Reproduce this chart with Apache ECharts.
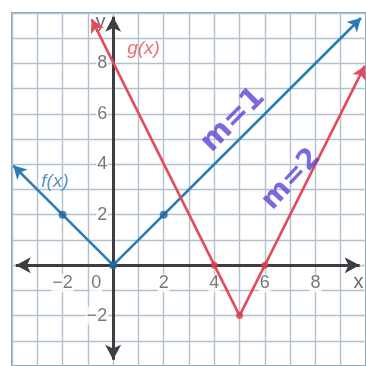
<!DOCTYPE html>
<html>
<head>
<meta charset="utf-8">
<script src="https://cdn.jsdelivr.net/npm/echarts@6/dist/echarts.min.js"></script>
<style>
  html, body { margin: 0; padding: 0; background: #ffffff; }
  #chart { width: 366px; height: 366px; }
</style>
</head>
<body>
<div id="chart"></div>
<script>
// Coordinate window of the grid paper
const xRange = [-4, 10];
const yRange = [-4, 10];

// f(x) = |x| : plotted points, vertex and the far ends of its two rays
const fPointsX = [-2, 0, 2];
const fPointsY = [2, 0, 2];
const fVertex = [0, 0];
const fRayEnds = [[-3.95, 3.95], [9.8, 9.8]];

// g(x) : plotted points, vertex and the far ends of its two rays
const gPointsX = [4, 5, 6];
const gPointsY = [0, -2, 0];
const gVertex = [5, -2];
const gRayEnds = [[-0.85, 9.75], [9.95, 7.9]];

// Axis arrow extents
const xAxisEnds = [-3.85, 9.75];
const yAxisEnds = [-3.75, 9.85];

// Tick labels
const xTickValues = [-2, 2, 4, 6, 8];
const xTickText = ['\u22122', '2', '4', '6', '8'];
const yTickValues = [8, 6, 4, 2, -2];
const yTickText = ['8', '6', '4', '2', '\u22122'];

// Annotation text and anchor points
const notes = [
  { text: 'm=1', at: [4.75, 5.75], rotate: 45, color: '#5a44d4', size: 30 },
  { text: 'm=2', at: [7.05, 3.4], rotate: 47, color: '#5a44d4', size: 28 }
];

const BLUE = '#2b7cb6';
const RED = '#e34b5b';
const AXIS = '#3e3e42';
const TICK = '#55565a';

function zip(xs, ys) { return xs.map((x, i) => [x, ys[i]]); }

function rays(vertex, ends, color) {
  return {
    silent: true,
    animation: false,
    symbol: ['none', 'arrow'],
    symbolSize: [11, 13],
    label: { show: false },
    lineStyle: { color: color, width: 2.6, type: 'solid' },
    emphasis: { disabled: true },
    data: ends.map(e => [{ coord: vertex }, { coord: e }])
  };
}

const tickLabelStyle = {
  show: true,
  color: TICK,
  fontFamily: 'Liberation Sans, Arial, sans-serif',
  fontSize: 18,
  backgroundColor: '#ffffff',
  padding: [0, 1]
};

const chart = echarts.init(document.getElementById('chart'), null, { renderer: 'canvas' });

chart.setOption({
  animation: false,
  backgroundColor: '#ffffff',
  grid: {
    left: 12, top: 13, width: 354, height: 354,
    show: true, borderColor: '#7fa3c6', borderWidth: 2, backgroundColor: 'transparent'
  },
  xAxis: {
    type: 'value', min: xRange[0], max: xRange[1], interval: 1,
    axisLine: { show: false }, axisTick: { show: false }, axisLabel: { show: false },
    splitLine: { show: true, lineStyle: { color: '#b3c1cf', width: 1.4 } }
  },
  yAxis: {
    type: 'value', min: yRange[0], max: yRange[1], interval: 1,
    axisLine: { show: false }, axisTick: { show: false }, axisLabel: { show: false },
    splitLine: { show: true, lineStyle: { color: '#b3c1cf', width: 1.4 } }
  },
  series: [
    {
      // the two coordinate axes with arrowheads at both ends
      type: 'scatter', z: 2, data: [], silent: true,
      markLine: {
        silent: true, animation: false,
        symbol: ['arrow', 'arrow'], symbolSize: [12, 15],
        label: { show: false },
        lineStyle: { color: AXIS, width: 3, type: 'solid' },
        data: [
          [{ coord: [xAxisEnds[0], 0] }, { coord: [xAxisEnds[1], 0] }],
          [{ coord: [0, yAxisEnds[0]] }, { coord: [0, yAxisEnds[1]] }]
        ]
      }
    },
    {
      // tick labels along the x axis
      type: 'scatter', z: 3, silent: true, symbolSize: 0,
      data: xTickValues.map((v, i) => ({ value: [v, 0], name: xTickText[i] })),
      label: Object.assign({}, tickLabelStyle, {
        position: 'bottom', distance: 9, formatter: p => p.name
      })
    },
    {
      // tick labels along the y axis, plus the origin
      type: 'scatter', z: 3, silent: true, symbolSize: 0,
      data: yTickValues.map((v, i) => ({ value: [0, v], name: yTickText[i] }))
        .concat([{ value: [0, 0], name: '0', label: { position: 'insideRight', offset: [-6, 18] } }]),
      label: Object.assign({}, tickLabelStyle, {
        position: 'left', distance: 5, formatter: p => p.name
      })
    },
    {
      // axis names
      type: 'scatter', z: 3, silent: true, symbolSize: 0,
      data: [{ value: [-0.5, 9.62], name: 'y' }, { value: [9.7, -0.7], name: 'x' }],
      label: {
        show: true, position: 'inside', formatter: p => p.name,
        color: '#46474b', fontFamily: 'Liberation Sans, Arial, sans-serif', fontSize: 20
      }
    },
    {
      // f(x) rays and plotted points
      name: 'f(x)', type: 'scatter', z: 5, silent: true,
      data: zip(fPointsX, fPointsY),
      symbol: 'circle', symbolSize: 8,
      itemStyle: { color: '#22679b' },
      markLine: rays(fVertex, fRayEnds, BLUE)
    },
    {
      // g(x) rays and plotted points
      name: 'g(x)', type: 'scatter', z: 6, silent: true,
      data: zip(gPointsX, gPointsY),
      symbol: 'circle', symbolSize: 7,
      itemStyle: { color: '#d83a4c' },
      markLine: rays(gVertex, gRayEnds, RED)
    },
    {
      // function names
      type: 'scatter', z: 7, silent: true, symbolSize: 0,
      data: [
        { value: [-2.3, 3.3], name: 'f(x)', label: { color: BLUE } },
        { value: [1.2, 8.6], name: 'g(x)', label: { color: RED } }
      ],
      label: {
        show: true, position: 'inside', formatter: p => p.name,
        fontFamily: 'Liberation Sans, Arial, sans-serif', fontStyle: 'italic', fontSize: 19
      }
    },
    {
      // slope notes
      type: 'scatter', z: 8, silent: true, symbolSize: 0,
      data: notes.map(n => ({
        value: n.at, name: n.text,
        label: { rotate: n.rotate, color: n.color, fontSize: n.size }
      })),
      label: {
        show: true, position: 'inside', formatter: p => p.name,
        fontFamily: 'DejaVu Sans, sans-serif', fontWeight: 'bold'
      }
    }
  ]
});
</script>
</body>
</html>
